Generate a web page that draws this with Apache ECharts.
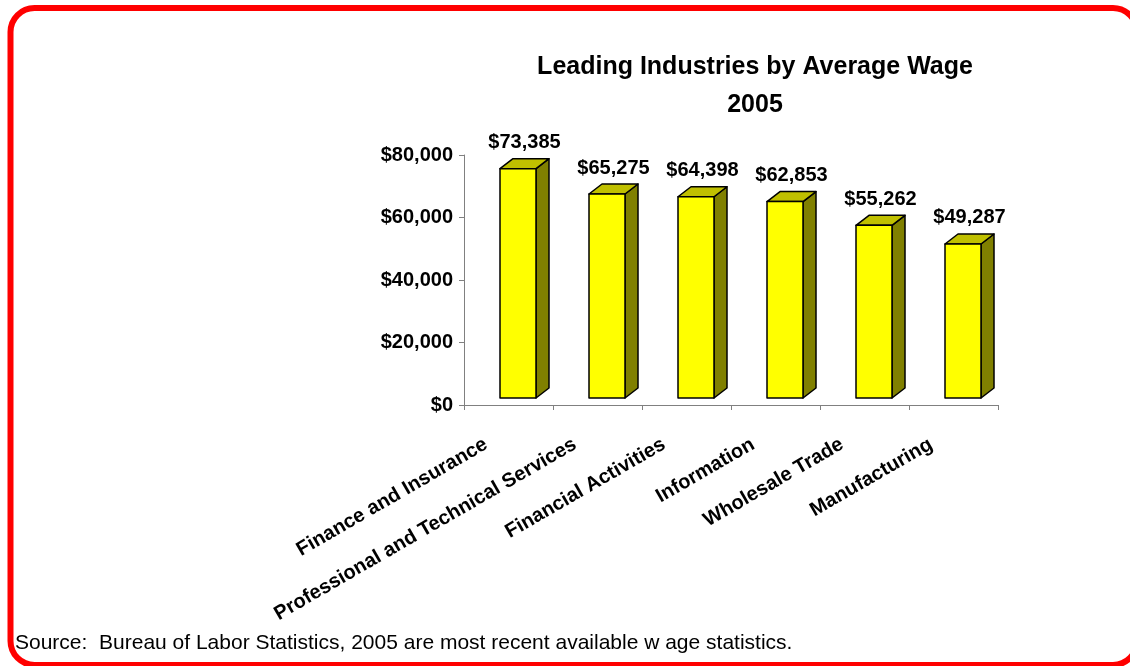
<!DOCTYPE html>
<html>
<head>
<meta charset="utf-8">
<script src="https://cdn.jsdelivr.net/npm/echarts@6/dist/echarts.min.js"></script>
<style>
  html, body { margin: 0; padding: 0; background: #fff; }
  #chart { width: 1130px; height: 666px; }
</style>
</head>
<body>
<div id="chart"></div>
<script>
// ---- data ----
const categories = [
  'Finance and Insurance',
  'Professional and Technical Services',
  'Financial Activities',
  'Information',
  'Wholesale Trade',
  'Manufacturing'
];
const wages = [73385, 65275, 64398, 62853, 55262, 49287];
const yTickValues = [0, 20000, 40000, 60000, 80000];
const yTickLabels = ['$0', '$20,000', '$40,000', '$60,000', '$80,000'];
const titleLines = ['Leading Industries by Average Wage', '2005'];
const sourceNote = 'Source:  Bureau of Labor Statistics, 2005 are most recent available w age statistics.';

// ---- style ----
const FONT = "'Liberation Sans', Arial, Helvetica, sans-serif";
const FRONT = '#FFFF00', SIDE = '#808000', TOP = '#C0C000';
const HALF_W = 18, OFF_X = 9.5, OFF_Y = -7, DEPTH_X = 13, DEPTH_Y = -10;

function fmtMoney(v) {
  return '$' + Math.round(v).toString().replace(/\B(?=(\d{3})+(?!\d))/g, ',');
}

const chart = echarts.init(document.getElementById('chart'), null, { renderer: 'canvas' });

function renderItem(params, api) {
  const i = api.value(0);
  const v = api.value(1);
  const base = api.coord([i, 0]);
  const top = api.coord([i, v]);
  const cx = base[0] + OFF_X;
  const xl = cx - HALF_W, xr = cx + HALF_W;
  const yb = base[1] + OFF_Y, yt = top[1] + OFF_Y;
  const stroke = { stroke: '#000', lineWidth: 1.5, lineJoin: 'round' };
  return {
    type: 'group',
    children: [
      {
        type: 'polygon',
        shape: { points: [[xr, yt], [xr + DEPTH_X, yt + DEPTH_Y], [xr + DEPTH_X, yb + DEPTH_Y], [xr, yb]] },
        style: Object.assign({ fill: SIDE }, stroke)
      },
      {
        type: 'polygon',
        shape: { points: [[xl, yt], [xl + DEPTH_X, yt + DEPTH_Y], [xr + DEPTH_X, yt + DEPTH_Y], [xr, yt]] },
        style: Object.assign({ fill: TOP }, stroke)
      },
      {
        type: 'rect',
        shape: { x: xl, y: yt, width: xr - xl, height: yb - yt },
        style: Object.assign({ fill: FRONT }, stroke)
      },
      {
        type: 'text',
        style: {
          text: fmtMoney(v),
          x: cx + DEPTH_X / 2,
          y: yt + DEPTH_Y - 16,
          align: 'center',
          verticalAlign: 'middle',
          fill: '#000',
          font: 'bold 20px ' + FONT
        }
      }
    ]
  };
}

const option = {
  backgroundColor: '#fff',
  animation: false,
  title: {
    text: titleLines.join('\n'),
    left: 750,
    top: 43,
    textAlign: 'center',
    textStyle: { fontFamily: FONT, fontWeight: 'bold', fontSize: 25, lineHeight: 38, color: '#000' }
  },
  grid: { left: 464, top: 155, width: 534, height: 250, containLabel: false },
  xAxis: {
    type: 'category',
    data: categories,
    boundaryGap: true,
    axisLine: { show: true, lineStyle: { color: '#808080', width: 1 } },
    axisTick: { show: true, length: 5, alignWithLabel: false, lineStyle: { color: '#808080' } },
    axisLabel: {
      interval: 0,
      rotate: 30,
      margin: 25,
      padding: [0, 26, 0, 0],
      fontFamily: FONT,
      fontWeight: 'bold',
      fontSize: 20,
      color: '#000'
    },
    splitLine: { show: false }
  },
  yAxis: {
    type: 'value',
    min: yTickValues[0],
    max: yTickValues[yTickValues.length - 1],
    interval: yTickValues[1] - yTickValues[0],
    axisLine: { show: true, lineStyle: { color: '#808080', width: 1 } },
    axisTick: { show: true, length: 5, lineStyle: { color: '#808080' } },
    axisLabel: {
      margin: 11,
      fontFamily: FONT,
      fontWeight: 'bold',
      fontSize: 20,
      color: '#000',
      formatter: function (val) {
        const idx = yTickValues.indexOf(val);
        return idx >= 0 ? yTickLabels[idx] : fmtMoney(val);
      }
    },
    splitLine: { show: false }
  },
  series: [{
    type: 'custom',
    renderItem: renderItem,
    encode: { x: 0, y: 1 },
    data: wages.map(function (v, i) { return [i, v]; }),
    clip: false,
    z: 3
  }],
  graphic: [
    {
      type: 'rect',
      z: 100,
      silent: true,
      shape: { x: 10.5, y: 8, width: 1126.5, height: 657, r: 24 },
      style: { fill: 'none', stroke: '#FF0000', lineWidth: 6 }
    },
    {
      type: 'text',
      left: 15,
      top: 633,
      silent: true,
      style: { text: sourceNote, font: '21px ' + FONT, fill: '#000' }
    }
  ]
};

chart.setOption(option);
</script>
</body>
</html>
